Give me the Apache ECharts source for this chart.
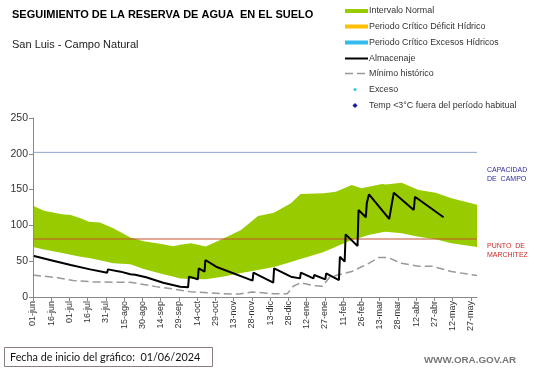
<!DOCTYPE html>
<html>
<head>
<meta charset="utf-8">
<script src="https://cdn.jsdelivr.net/npm/echarts@6/dist/echarts.min.js"></script>
<style>
html,body{margin:0;padding:0;background:#fff;}
#chart{width:541px;height:368px;}
</style>
</head>
<body>
<div id="chart"></div>
<script>
// ---- Data ----
const xLabels = ['01-jun','16-jun','01-jul','16-jul','31-jul','15-ago','30-ago','14-sep','29-sep','14-oct','29-oct','13-nov','28-nov','13-dic','28-dic','12-ene','27-ene','11-feb','26-feb','13-mar','28-mar','12-abr','27-abr','12-may','27-may'];
const tickDays = [0,15,30,45,60,75,90,105,120,135,150,165,180,195,210,225,240,255,270,285,300,315,330,345,360];
const yTicks = [0,50,100,150,200,250];

const bandDays  = [0,9,24,31,39,46,55,66,80,91,107,115,121,130,142,157,171,185,198,212,220,239,249,262,270,276,287,290,303,317,331,344,365];
const bandUpper = [127.5,120.5,115.5,114.5,110,105,104,96,83,78,73.5,71,73,75,70.5,82,93.6,113,117.7,130.8,143.8,144.8,147,156.4,151.8,154,157.8,157,159.6,149.4,145.7,137.8,129];
const bandLower = [70,66.5,61.5,59,56.3,54.5,51.5,47,45.6,39,31.7,28.5,26,25,24.7,28.5,33.5,37.7,42,49,53,63,70.3,79.6,83.5,86.6,90.5,91.2,89,84.2,80.6,75,70];

const storageDays   = [0,14,31,47,61,61.6,72,80,84,84.6,93,107,121,127.5,128.2,135.5,136.2,141,141.7,150.5,151.2,180.5,181.2,197.5,198.2,212,212.6,219.5,220.2,230.5,231.2,240.3,241,251.5,252.3,256.2,257,266.8,267.6,273.6,274.4,275.4,276.2,292.8,296.6,313,314,337.5];
const storageValues = [57.5,51.7,44.7,38.6,34,38.6,35.4,31.7,31,33.5,27.5,20,14.4,13.5,28.4,24.7,40,35.4,51.7,42.3,44.7,22.8,34,20,40,28.4,30.5,26,34,26,30.7,24.7,33,23.7,56.3,49.4,87.5,71.2,121.5,111.3,130.8,128.5,143.4,109,145.7,121.5,140,111.3];

const minDays   = [0,20,33,50,80,101,116,129,156,170,180,198,209,214,220,230,238,244,262,276,284,292,303,317,328,344,365];
const minValues = [30.7,27,23,21,20.5,14.5,11,7.5,4.5,4.2,7,4.5,4.5,15,20,16,15,28,35.5,47,55,55,47,43,43,35.5,30];

const fieldCapacity = 202;
const wiltingPoint = 81;
const axisEnds = [0, 365];

const legendNames = ['Intervalo Normal','Periodo Crítico Déficit Hídrico','Periodo Crítico Excesos Hídricos','Almacenaje','Mínimo histórico','Exceso','Temp <3°C fuera del período habitual'];

// ---- Chart ----
const pair = (xs, ys) => xs.map((x, i) => [x, ys[i]]);
const FONT = '"Liberation Sans", Arial, sans-serif';

const legendY = [11, 26.5, 42.5, 58.5, 73.5, 89.5, 105.5];
const legendGraphics = [];
const lgX = 345, lgW = 23, lgTx = 369;
legendNames.forEach((name, i) => {
  const y = legendY[i];
  if (i < 3) {
    const col = ['#99cc00', '#ffc000', '#33bbee'][i];
    legendGraphics.push({type:'rect', shape:{x:lgX, y:y-2, width:lgW, height:4}, style:{fill:col}});
  } else if (i === 3) {
    legendGraphics.push({type:'line', shape:{x1:lgX, y1:y, x2:lgX+lgW, y2:y}, style:{stroke:'#000', lineWidth:2}});
  } else if (i === 4) {
    legendGraphics.push({type:'line', shape:{x1:lgX, y1:y, x2:lgX+lgW, y2:y}, style:{stroke:'#999', lineWidth:1.5, lineDash:[8,4]}});
  } else if (i === 5) {
    legendGraphics.push({type:'circle', shape:{cx:355, cy:y, r:1.6}, style:{fill:'#33ccee'}});
  } else {
    legendGraphics.push({type:'polygon', shape:{points:[[355,y-2.6],[357.6,y],[355,y+2.6],[352.4,y]]}, style:{fill:'#1f1f99'}});
  }
  legendGraphics.push({type:'text', x:lgTx, y:y, style:{text:name, font:'8.9px ' + FONT, fill:'#333', textVerticalAlign:'middle', textBaseline:'middle'}});
});

const chart = echarts.init(document.getElementById('chart'), null, {renderer:'canvas'});
const option = {
  animation: false,
  backgroundColor: '#fff',
  grid: {left:33, right:64, top:118, bottom:71, containLabel:false, outerBoundsMode:'none'},
  xAxis: {
    type: 'value', min: 0, max: 365, z: 10,
    axisLine: {show:true, lineStyle:{color:'#888', width:1}},
    axisTick: {show:true, customValues: tickDays, length:4, lineStyle:{color:'#888'}},
    axisLabel: {customValues: tickDays, rotate: 90, fontSize: 9, color: '#333', fontFamily: FONT, margin: 4,
      formatter: v => xLabels[Math.round(v / 15)] || ''},
    splitLine: {show:false}
  },
  yAxis: {
    type: 'value', min: 0, max: 250, interval: 50, z: 10,
    name: 'Milímetros', nameLocation: 'middle', nameGap: 25,
    nameTextStyle: {fontSize: 7, color:'#333', fontFamily: FONT},
    axisLine: {show:true, lineStyle:{color:'#888', width:1}},
    axisTick: {show:true, length:4, lineStyle:{color:'#888'}},
    axisLabel: {customValues: yTicks, fontSize: 10.5, color:'#333', fontFamily: FONT, margin: 5},
    splitLine: {show:false}
  },
  series: [
    {
      name: 'Intervalo Normal', type: 'line', z: 1,
      data: pair(bandDays, bandUpper), symbol: 'none', smooth: false,
      lineStyle: {width: 0}, areaStyle: {color: '#99cc00', opacity: 1, origin: 'start'}
    },
    {
      name: 'bandLower', type: 'line', z: 1.5,
      data: pair(bandDays, bandLower), symbol: 'none',
      lineStyle: {width: 0}, areaStyle: {color: '#ffffff', opacity: 1, origin: 'start'}
    },
    {
      name: 'Capacidad de campo', type: 'line', z: 2.5,
      data: axisEnds.map(d => [d, fieldCapacity]), symbol: 'none',
      lineStyle: {color: '#8ea5d2', width: 1}
    },
    {
      name: 'Punto de marchitez', type: 'line', z: 2.5,
      data: axisEnds.map(d => [d, wiltingPoint]), symbol: 'none',
      lineStyle: {color: '#c2502e', width: 1}
    },
    {
      name: 'Mínimo histórico', type: 'line', z: 3,
      data: pair(minDays, minValues), symbol: 'none',
      lineStyle: {color: '#999', width: 1.5, type: [8, 4]}
    },
    {
      name: 'Almacenaje', type: 'line', z: 4,
      data: pair(storageDays, storageValues), symbol: 'none',
      lineStyle: {color: '#000', width: 2}
    }
  ],
  graphic: [
    {type:'text', x:12, y:15, style:{text:'SEGUIMIENTO DE LA RESERVA DE AGUA  EN EL SUELO', font:'bold 11px ' + FONT, fill:'#000', textBaseline:'middle', textVerticalAlign:'middle'}},
    {type:'text', x:12, y:45, style:{text:'San Luis - Campo Natural', font:'11px ' + FONT, fill:'#222', textBaseline:'middle', textVerticalAlign:'middle'}},
    {type:'text', x:487, y:170, style:{text:'CAPACIDAD', font:'7px ' + FONT, fill:'#2b2ba0', textBaseline:'middle', textVerticalAlign:'middle'}},
    {type:'text', x:487, y:179, style:{text:'DE  CAMPO', font:'7px ' + FONT, fill:'#2b2ba0', textBaseline:'middle', textVerticalAlign:'middle'}},
    {type:'text', x:487, y:246.5, style:{text:'PUNTO  DE', font:'7px ' + FONT, fill:'#cc2a2a', textBaseline:'middle', textVerticalAlign:'middle'}},
    {type:'text', x:487, y:255.5, style:{text:'MARCHITEZ', font:'7px ' + FONT, fill:'#cc2a2a', textBaseline:'middle', textVerticalAlign:'middle'}},
    {type:'rect', shape:{x:4.5, y:347.5, width:208, height:19}, style:{fill:'#fff', stroke:'#8c7c7c', lineWidth:1}},
    {type:'text', x:10, y:357.5, style:{text:'Fecha de inicio del gráfico:  01/06/2024', font:'10.8px Lato, "Open Sans", sans-serif', fill:'#111', textBaseline:'middle', textVerticalAlign:'middle'}},
    {type:'text', x:424, y:360, style:{text:'WWW.ORA.GOV.AR', font:'bold 9.8px ' + FONT, fill:'#777', textBaseline:'middle', textVerticalAlign:'middle'}}
  ].concat(legendGraphics)
};
chart.setOption(option);
</script>
</body>
</html>
